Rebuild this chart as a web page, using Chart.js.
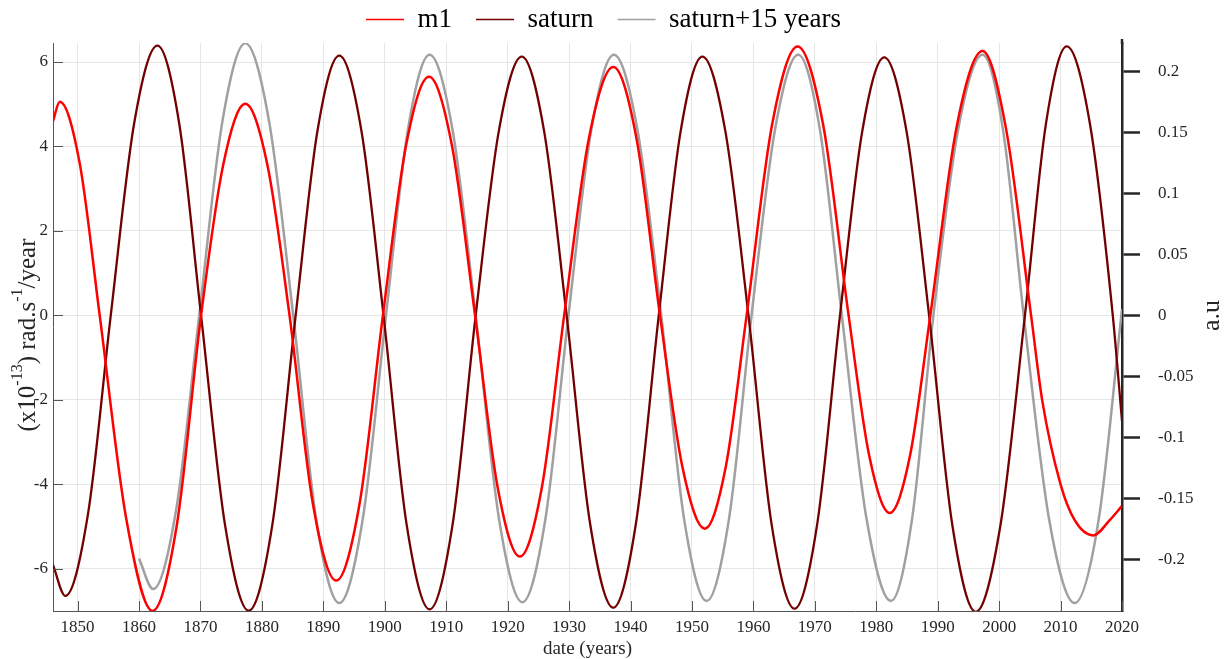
<!DOCTYPE html>
<html>
<head>
<meta charset="utf-8">
<script src="https://cdn.jsdelivr.net/npm/chart.js@4.4.1/dist/chart.umd.min.js"></script>
<style>
  html, body { margin: 0; padding: 0; background: #fff; }
  #wrap { width: 1232px; height: 659px; }
</style>
</head>
<body>
<div id="wrap"><canvas id="lineChart"></canvas></div>
<script>
// m1 (left axis, x10^-13 rad.s^-1/year)
var m1Years = [1846, 1847.1, 1850.35, 1853.6, 1857.9, 1862.2, 1866.15, 1870.1,
  1873.7, 1877.3, 1880.9, 1884.5, 1888.3, 1892.1, 1895.9, 1899.7,
  1903.45, 1907.2, 1910.95, 1914.7, 1918.35, 1922.0, 1925.6, 1929.2,
  1933.2, 1937.2, 1941.0, 1944.8, 1948.45, 1952.1, 1955.5, 1958.9,
  1963.05, 1967.2, 1971.35, 1975.5, 1978.85, 1982.2, 1985.5, 1988.8,
  1993.05, 1997.3, 2001.1, 2005.2, 2007.0, 2010.0, 2012.3, 2015.3, 2018, 2020];
var m1Values = [4.6, 5.06, 3.6, 0, -4.8, -7.0, -4.97, 0,
  3.56, 5.01, 3.56, 0, -4.46, -6.28, -4.46, 0,
  4.01, 5.65, 4.01, 0, -4.05, -5.71, -4.05, 0,
  4.17, 5.88, 4.17, 0, -3.59, -5.05, -3.59, 0,
  4.52, 6.37, 4.52, 0, -3.32, -4.68, -3.32, 0,
  4.44, 6.26, 4.44, 0, -2.0, -4.0, -4.85, -5.21, -4.85, -4.51];

// saturn (right axis, a.u)
var satYears = [1846, 1848.0, 1851.7, 1855.4, 1859.2, 1863.0, 1866.55, 1870.1,
  1874.0, 1877.85, 1881.7, 1885.5, 1889.05, 1892.6, 1896.2, 1899.8,
  1903.55, 1907.3, 1911.05, 1914.8, 1918.55, 1922.3, 1925.95, 1929.6,
  1933.4, 1937.2, 1940.9, 1944.6, 1948.15, 1951.7, 1955.45, 1959.2,
  1962.95, 1966.7, 1970.4, 1974.1, 1977.7, 1981.3, 1984.95, 1988.6,
  1992.4, 1996.2, 2000.2, 2004.2, 2007.6, 2011.0, 2014.8, 2018.5, 2020];
var satValues = [-0.2044, -0.2297, -0.1626, 0, 0.1570, 0.2210, 0.1570, 0,
  -0.1716, -0.2418, -0.1716, 0, 0.1512, 0.2127, 0.1512, 0,
  -0.1709, -0.2407, -0.1709, 0, 0.1505, 0.2120, 0.1505, 0,
  -0.1698, -0.2394, -0.1698, 0, 0.1505, 0.2120, 0.1505, 0,
  -0.1705, -0.2401, -0.1705, 0, 0.1501, 0.2113, 0.1501, 0,
  -0.1723, -0.2428, -0.1723, 0, 0.1563, 0.2203, 0.1563, 0, -0.0865];

// saturn + 15 years (right axis, a.u)
var grayYears = [1860.0, 1862.3, 1866.05, 1869.8, 1873.55, 1877.3, 1881.2, 1885.1,
  1888.85, 1892.6, 1896.4, 1900.2, 1903.75, 1907.3, 1911.05, 1914.8,
  1918.6, 1922.4, 1926.15, 1929.9, 1933.6, 1937.3, 1941.15, 1945.0,
  1948.7, 1952.4, 1956.05, 1959.7, 1963.5, 1967.3, 1970.85, 1974.4,
  1978.4, 1982.4, 1985.85, 1989.3, 1993.3, 1997.3, 2000.65, 2004.0,
  2008.15, 2012.3, 2016.2, 2020];
var grayValues = [-0.1992, -0.2241, -0.1591, 0, 0.1581, 0.2228, 0.1581, 0,
  -0.1674, -0.2356, -0.1674, 0, 0.1515, 0.2134, 0.1515, 0,
  -0.1667, -0.2349, -0.1667, 0, 0.1515, 0.2134, 0.1515, 0,
  -0.1660, -0.2338, -0.1660, 0, 0.1515, 0.2134, 0.1515, 0,
  -0.1660, -0.2338, -0.1660, 0, 0.1515, 0.2134, 0.1515, 0,
  -0.1674, -0.2356, -0.1674, 0.0052];

var xTicks = [1850, 1860, 1870, 1880, 1890, 1900, 1910, 1920, 1930, 1940,
  1950, 1960, 1970, 1980, 1990, 2000, 2010, 2020];
var leftTicks = [-6, -4, -2, 0, 2, 4, 6];
var rightTicks = [-0.2, -0.15, -0.1, -0.05, 0, 0.05, 0.1, 0.15, 0.2];

const serif = "'Liberation Serif', 'Times New Roman', serif";
const tickColor = "#262626";
const gridColor = "#e6e6e6";
Chart.defaults.font.family = serif;

const toPoints = (xs, ys) => xs.map((x, i) => ({ x: x, y: ys[i] }));
const setTicks = (list) => (scale) => {
  scale.ticks = list.map((v) => ({ value: v }));
};

// inward ticks on the left/bottom axes and the rotated axis titles
const axisExtras = {
  id: "axisExtras",
  afterDraw(chart) {
    const ctx = chart.ctx;
    const sx = chart.scales.x;
    const sy = chart.scales.y;
    const area = chart.chartArea;
    ctx.save();
    ctx.strokeStyle = "#555";
    ctx.lineWidth = 1;
    xTicks.forEach((v) => {
      const px = Math.round(sx.getPixelForValue(v)) + 0.5;
      ctx.beginPath();
      ctx.moveTo(px, area.bottom);
      ctx.lineTo(px, area.bottom - 10);
      ctx.stroke();
    });
    leftTicks.forEach((v) => {
      const py = Math.round(sy.getPixelForValue(v)) + 0.5;
      ctx.beginPath();
      ctx.moveTo(area.left, py);
      ctx.lineTo(area.left + 10, py);
      ctx.stroke();
    });
    // right axis line runs a little above the plot
    ctx.strokeStyle = "#262626";
    ctx.lineWidth = 2.5;
    ctx.beginPath();
    ctx.moveTo(area.right, area.top - 4);
    ctx.lineTo(area.right, area.top + 1);
    ctx.stroke();
    ctx.restore();

    // left title with superscripts
    const parts = [["(x10", false], ["-13", true], [") rad.s", false], ["-1", true], ["/year", false]];
    const mainFont = "25px " + serif;
    const supFont = "16px " + serif;
    ctx.save();
    ctx.fillStyle = tickColor;
    ctx.textBaseline = "middle";
    ctx.textAlign = "left";
    let total = 0;
    parts.forEach((p) => {
      ctx.font = p[1] ? supFont : mainFont;
      total += ctx.measureText(p[0]).width;
    });
    ctx.translate(28, (area.top + area.bottom) / 2 + 8);
    ctx.rotate(-Math.PI / 2);
    let cx = -total / 2;
    parts.forEach((p) => {
      ctx.font = p[1] ? supFont : mainFont;
      ctx.fillText(p[0], cx, p[1] ? -10 : 0);
      cx += ctx.measureText(p[0]).width;
    });
    ctx.restore();

    // right title
    ctx.save();
    ctx.fillStyle = tickColor;
    ctx.font = "26px " + serif;
    ctx.textAlign = "center";
    ctx.textBaseline = "middle";
    ctx.translate(1212, chart.scales.y2.getPixelForValue(0));
    ctx.rotate(-Math.PI / 2);
    ctx.fillText("a.u", 0, 0);
    ctx.restore();
  },
};

new Chart("lineChart", {
  type: "line",
  data: {
    datasets: [
      {
        label: "m1",
        data: toPoints(m1Years, m1Values),
        yAxisID: "y",
        borderColor: "#ff0000",
        borderWidth: 2.5,
      },
      {
        label: "saturn",
        data: toPoints(satYears, satValues),
        yAxisID: "y2",
        borderColor: "#720000",
        borderWidth: 2.3,
      },
      {
        label: "saturn+15 years",
        data: toPoints(grayYears, grayValues),
        yAxisID: "y2",
        borderColor: "#a0a0a0",
        borderWidth: 2.5,
      },
    ],
  },
  options: {
    responsive: true,
    maintainAspectRatio: false,
    animation: false,
    layout: { padding: { top: -18, right: 25, left: 0, bottom: 0 } },
    elements: {
      point: { radius: 0 },
      line: { cubicInterpolationMode: "monotone", fill: false },
    },
    plugins: {
      tooltip: { enabled: false },
      legend: {
        position: "top",
        labels: {
          usePointStyle: true,
          pointStyle: "line",
          pointStyleWidth: 38,
          padding: 24,
          color: "#000",
          font: { family: serif, size: 27 },
          generateLabels: (chart) =>
            Chart.defaults.plugins.legend.labels
              .generateLabels(chart)
              .map((l) => Object.assign(l, { lineWidth: 1.5 })),
        },
      },
    },
    scales: {
      x: {
        type: "linear",
        min: 1846,
        max: 2020,
        afterBuildTicks: setTicks(xTicks),
        afterFit: (s) => { s.height = 48; },
        grid: { color: gridColor, drawTicks: false },
        border: { color: "#555", width: 1 },
        ticks: {
          padding: 6,
          color: tickColor,
          font: { size: 17 },
          maxRotation: 0,
          callback: (v) => String(v),
        },
        title: {
          display: true,
          text: "date (years)",
          color: tickColor,
          font: { size: 19, lineHeight: 1 },
          padding: 0,
        },
      },
      y: {
        position: "left",
        min: -7,
        max: 6.45,
        afterBuildTicks: setTicks(leftTicks),
        afterFit: (s) => { s.width = 53; },
        grid: { color: gridColor, drawTicks: false },
        border: { color: "#555", width: 1 },
        ticks: {
          padding: 5,
          color: tickColor,
          font: { size: 17 },
          callback: (v) => String(v),
        },
      },
      y2: {
        position: "right",
        min: -0.2421,
        max: 0.2231,
        afterBuildTicks: setTicks(rightTicks),
        afterFit: (s) => { s.width = 85; },
        grid: {
          drawOnChartArea: false,
          drawTicks: true,
          tickLength: 18,
          tickColor: "#262626",
          tickWidth: 2.5,
        },
        border: { color: "#262626", width: 2.5 },
        ticks: {
          padding: 18,
          color: tickColor,
          font: { size: 17 },
          callback: (v) => String(v),
        },
      },
    },
  },
  plugins: [axisExtras],
});
</script>
</body>
</html>
